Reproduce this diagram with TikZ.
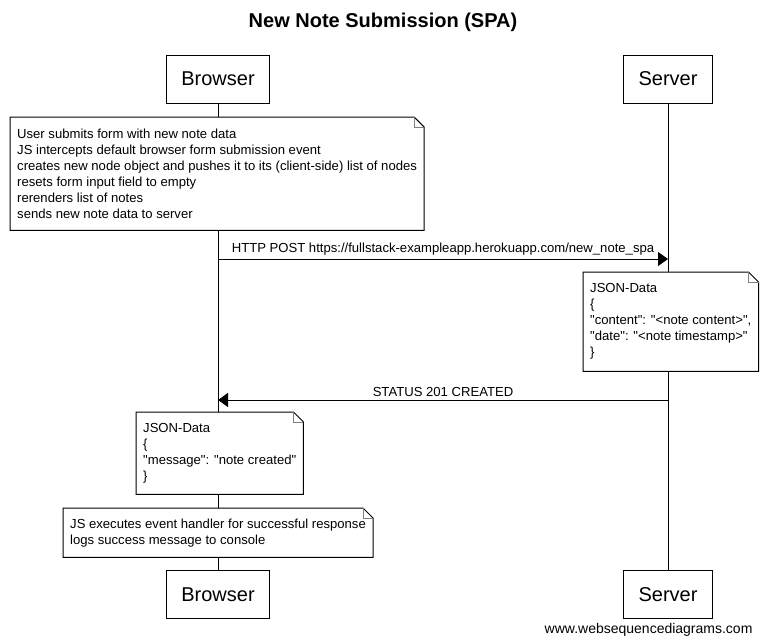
\documentclass[tikz,border=0pt]{standalone}
\usepackage{fontspec}
\setmainfont{Liberation Sans}[Ligatures=TeXOff]
\usetikzlibrary{arrows.meta}

\tikzset{
	actor/.style={draw, line width=1pt, fill=white, inner xsep=15pt, minimum height=48pt, font=\fontsize{20}{24}\selectfont},
	notebox/.style={anchor=north west, fill=white, align=left, inner xsep=7pt, inner ysep=0pt, font=\fontsize{13.1}{16}\selectfont},
	noteline/.style={line width=1pt},
	msg/.style={line width=1pt, -{Triangle[length=10pt,width=14pt]}},
	msglabel/.style={above, inner sep=3pt, font=\fontsize{13.1}{16}\selectfont}
}

\begin{document}
\begin{tikzpicture}[x=1pt, y=-1pt]

	\useasboundingbox (0,0) rectangle (765,643);

	\node[font=\bfseries\fontsize{20}{24}\selectfont] (title) at (383,22) {New Note Submission (SPA)};

	% participants
	\node[actor] (btop) at (218,79) {Browser};
	\node[actor] (stop) at (668,79) {Server};
	\node[actor] (bbot) at (218,594.5) {Browser};
	\node[actor] (sbot) at (668,594.5) {Server};

	\draw[line width=1pt] (btop.south) -- (bbot.north);
	\draw[line width=1pt] (stop.south) -- (sbot.north);

	% notes
	\node[notebox, minimum height=113pt] (n1) at (10,117) {User submits form with new note data\\
		JS intercepts default browser form submission event\\
		creates new node object and pushes it to its (client-side) list of nodes\\
		resets form input field to empty\\
		rerenders list of notes\\
		sends new note data to server};
	\draw[noteline] (n1.north west) -- ([xshift=-10pt]n1.north east) -- ([yshift=-10pt]n1.north east) -- (n1.south east) -- (n1.south west) -- cycle;
	\draw[gray] ([xshift=-10pt]n1.north east) |- ([yshift=-10pt]n1.north east);

	\coordinate (post) at (0,259);
	\draw[msg] (btop |- post) -- node[msglabel] (postlbl) {HTTP POST https://fullstack-exampleapp.herokuapp.com/new\_note\_spa} (stop |- post);

	\node[notebox, minimum height=99pt] (n2) at (583,272) {JSON-Data\\
		\{\\
		"content": "<note content>",\\
		"date": "<note timestamp>"\\
		\}};
	\draw[noteline] (n2.north west) -- ([xshift=-10pt]n2.north east) -- ([yshift=-10pt]n2.north east) -- (n2.south east) -- (n2.south west) -- cycle;
	\draw[gray] ([xshift=-10pt]n2.north east) |- ([yshift=-10pt]n2.north east);

	\coordinate (created) at (0,400);
	\draw[msg] (stop |- created) -- node[msglabel] (createdlbl) {STATUS 201 CREATED} (btop |- created);

	\node[notebox, minimum height=82pt] (n3) at (136,412) {JSON-Data\\
		\{\\
		"message": "note created"\\
		\}};
	\draw[noteline] (n3.north west) -- ([xshift=-10pt]n3.north east) -- ([yshift=-10pt]n3.north east) -- (n3.south east) -- (n3.south west) -- cycle;
	\draw[gray] ([xshift=-10pt]n3.north east) |- ([yshift=-10pt]n3.north east);

	\node[notebox, minimum height=49pt] (n4) at (63,508) {JS executes event handler for successful response\\
		logs success message to console};
	\draw[noteline] (n4.north west) -- ([xshift=-10pt]n4.north east) -- ([yshift=-10pt]n4.north east) -- (n4.south east) -- (n4.south west) -- cycle;
	\draw[gray] ([xshift=-10pt]n4.north east) |- ([yshift=-10pt]n4.north east);

	\node[anchor=base east, font=\fontsize{14}{16}\selectfont] (wsd) at (756,633) {www.websequencediagrams.com};

\end{tikzpicture}
\end{document}
